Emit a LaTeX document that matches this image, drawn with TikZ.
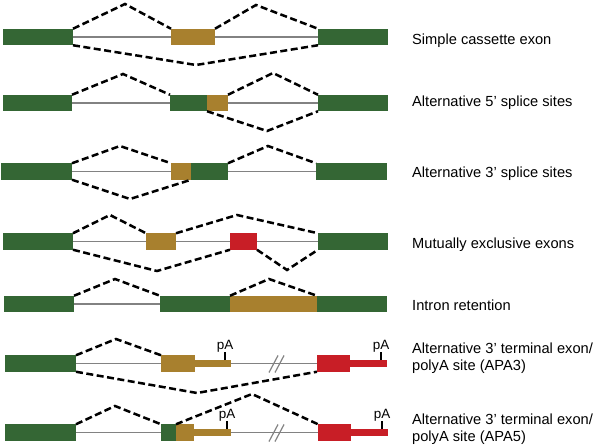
\documentclass[tikz,border=0pt]{standalone}
\usepackage{fontspec}
\setmainfont{Liberation Sans}
\usepackage{tikz}
\usetikzlibrary{calc,positioning}

\definecolor{exongreen}{RGB}{52,102,52}
\definecolor{exongold}{RGB}{168,128,46}
\definecolor{exonred}{RGB}{200,30,38}
\definecolor{introngray}{RGB}{130,130,130}

\tikzset{
  exon/.style={rectangle, inner sep=0pt, outer sep=0pt, minimum height=16.5bp, anchor=west, fill=#1},
  tail/.style={exon=#1, minimum height=7bp},
  intron/.style={draw=introngray, line width=1.2bp},
  splice/.style={draw=black, line width=2.5bp, dash pattern=on 7bp off 3.5bp},
  tick/.style={draw=black, line width=2.2bp},
  pa/.style={font=\fontsize{13.5}{14}\selectfont, inner sep=0pt, anchor=base},
  lbl/.style={font=\fontsize{14.7}{17}\selectfont, inner sep=0pt, anchor=base west, align=left}
}

\begin{document}
\begin{tikzpicture}[x=1bp, y=-1bp]
    \useasboundingbox (0,0) rectangle (596,446);

    % simple cassette exon
    \node[exon=exongreen, minimum width=70bp] (r1a) at (3,37) {};
    \node[exon=exongold, minimum width=44bp] (r1b) at (171,37) {};
    \node[exon=exongreen, minimum width=70bp] (r1c) at (318,37) {};
    \draw[intron] (r1a) -- (r1b) -- (r1c);
    \draw[splice] (r1a.north east) -- (125,4) -- (r1b.north west);
    \draw[splice] (r1b.north east) -- (256,5) -- (r1c.north west);
    \draw[splice] (r1a.south east) -- (196,65) -- (r1c.south west);
    \node[lbl] (t1) at (412,45) {Simple cassette exon};

    % alternative 5' splice sites
    \node[exon=exongreen, minimum width=69bp] (r2a) at (3,103) {};
    \node[exon=exongreen, minimum width=37bp] (r2b) at (170,103) {};
    \node[exon=exongold, minimum width=21bp] (r2g) at (207,103) {};
    \node[exon=exongreen, minimum width=70bp] (r2c) at (318,103) {};
    \draw[intron] (r2a) -- (r2b);
    \draw[intron] (r2g) -- (r2c);
    \draw[splice] (r2a.north east) -- (123,74) -- (r2b.north west);
    \draw[splice] (r2g.north east) -- (273,73) -- (r2c.north west);
    \draw[splice] (r2g.south west) -- (267,131) -- (r2c.south west);
    \node[lbl] (t2) at (412,107) {Alternative 5’ splice sites};

    % alternative 3' splice sites
    \node[exon=exongreen, minimum width=71bp] (r3a) at (1,171.5) {};
    \node[exon=exongold, minimum width=20bp] (r3g) at (171,171.5) {};
    \node[exon=exongreen, minimum width=37bp] (r3b) at (191,171.5) {};
    \node[exon=exongreen, minimum width=71bp] (r3c) at (316,171.5) {};
    \draw[intron] (r3a) -- (r3g);
    \draw[intron] (r3b) -- (r3c);
    \draw[splice] (r3a.north east) -- (120,146) -- (r3g.north west);
    \draw[splice] (r3b.north east) -- (268,146) -- (r3c.north west);
    \draw[splice] (r3a.south east) -- (130,199) -- (r3g.south east);
    \node[lbl] (t3) at (412,178) {Alternative 3’ splice sites};

    % mutually exclusive exons
    \node[exon=exongreen, minimum width=70bp] (r4a) at (3,241.5) {};
    \node[exon=exongold, minimum width=30bp] (r4g) at (146,241.5) {};
    \node[exon=exonred, minimum width=27bp] (r4r) at (230,241.5) {};
    \node[exon=exongreen, minimum width=70bp] (r4c) at (318,241.5) {};
    \draw[intron] (r4a) -- (r4g) -- (r4r) -- (r4c);
    \draw[splice] (r4a.north east) -- (110,215) -- (r4g.north west);
    \draw[splice] (r4g.north east) -- (237,215) -- (r4c.north west);
    \draw[splice] (r4a.south east) -- (157,271) -- (r4r.south west);
    \draw[splice] (r4r.south east) -- (287,270) -- (r4c.south west);
    \node[lbl] (t4) at (412,249) {Mutually exclusive exons};

    % intron retention
    \node[exon=exongreen, minimum width=70bp] (r5a) at (4,304) {};
    \node[exon=exongreen, minimum width=70bp] (r5b) at (160,304) {};
    \node[exon=exongold, minimum width=87bp] (r5g) at (230,304) {};
    \node[exon=exongreen, minimum width=70bp] (r5c) at (317,304) {};
    \draw[intron] (r5a) -- (r5b);
    \draw[splice] (r5a.north east) -- (115,279) -- (r5b.north west);
    \draw[splice] (r5g.north west) -- (269,279) -- (r5c.north west);
    \node[lbl] (t5) at (412,310) {Intron retention};

    % APA3
    \node[exon=exongreen, minimum width=71bp] (r6a) at (5,363.5) {};
    \node[exon=exongold, minimum width=34bp] (r6g) at (161,363.5) {};
    \node[tail=exongold, minimum width=36bp] (r6t) at (195,363.5) {};
    \node[exon=exonred, minimum width=33bp] (r6r) at (317,363.5) {};
    \node[tail=exonred, minimum width=37bp] (r6s) at (350,363.5) {};
    \coordinate (brk6) at (276,363.5);
    \draw[intron] (r6a) -- (r6g);
    \draw[intron] (r6t) -- (r6r);
    \draw[intron] ($(brk6)+(-7,9)$) -- ++(9,-17) ($(brk6)+(-1,9)$) -- ++(9,-17);
    \draw[splice] (r6a.north east) -- (116,339) -- (r6g.north west);
    \draw[splice] (r6a.south east) -- (197,393) -- (r6r.south west);
    \draw[tick] ([xshift=-6bp]r6t.north east) -- ++(0,-8) coordinate (p6a);
    \draw[tick] ([xshift=-6bp]r6s.north east) -- ++(0,-8) coordinate (p6b);
    \node[pa] (l6a) at ([yshift=2.5bp]p6a) {pA};
    \node[pa] (l6b) at ([yshift=2.5bp]p6b) {pA};
    \node[lbl] (t6) at (412,370) {Alternative 3’ terminal exon/\\polyA site (APA3)};

    % APA5
    \node[exon=exongreen, minimum width=71bp] (r7a) at (5,432.5) {};
    \node[exon=exongreen, minimum width=15bp] (r7b) at (161,432.5) {};
    \node[exon=exongold, minimum width=18bp] (r7g) at (176,432.5) {};
    \node[tail=exongold, minimum width=37bp] (r7t) at (194,432.5) {};
    \node[exon=exonred, minimum width=33bp] (r7r) at (318,432.5) {};
    \node[tail=exonred, minimum width=37bp] (r7s) at (351,432.5) {};
    \coordinate (brk7) at (276,432.5);
    \draw[intron] (r7a) -- (r7b);
    \draw[intron] (r7t) -- (r7r);
    \draw[intron] ($(brk7)+(-7,9)$) -- ++(9,-17) ($(brk7)+(-1,9)$) -- ++(9,-17);
    \draw[splice] (r7a.north east) -- (115,406) -- (r7b.north west);
    \draw[splice] (r7g.north west) -- (252,394) -- (r7r.north west);
    \draw[tick] ([xshift=-4bp]r7t.north east) -- ++(0,-8) coordinate (p7a);
    \draw[tick] ([xshift=-6bp]r7s.north east) -- ++(0,-8) coordinate (p7b);
    \node[pa] (l7a) at ([yshift=2.5bp]p7a) {pA};
    \node[pa] (l7b) at ([yshift=2.5bp]p7b) {pA};
    \node[lbl] (t7) at (412,441.5) {Alternative 3’ terminal exon/\\polyA site (APA5)};
\end{tikzpicture}
\end{document}
